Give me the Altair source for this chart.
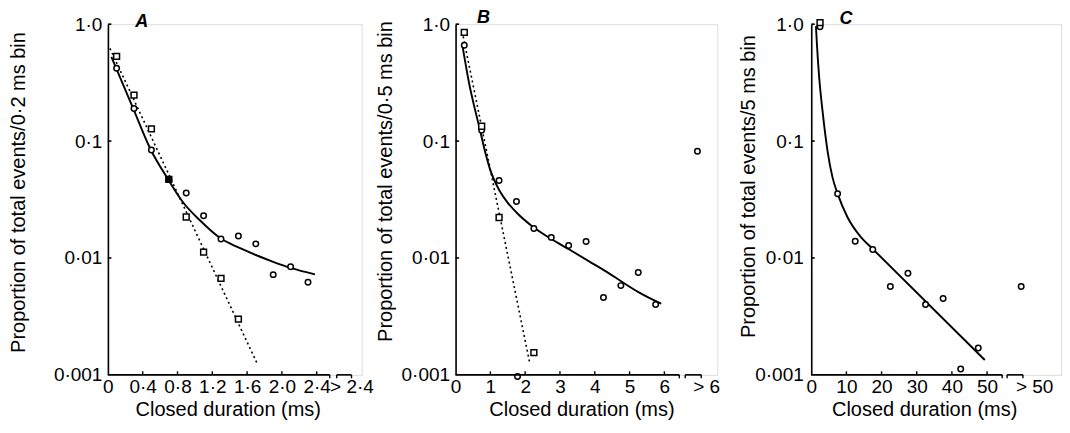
import altair as alt
import pandas as pd
import numpy as np

FONT = "Liberation Sans"

# ---------------- Panel A (0.2 ms bins) ----------------
a_circle_x = [0.1, 0.3, 0.5, 0.7, 0.9, 1.1, 1.3, 1.5, 1.7, 1.9, 2.1, 2.3]
a_circle_y = [0.42, 0.19, 0.084, 0.047, 0.036, 0.023, 0.0145, 0.0154, 0.0132, 0.0072, 0.0084, 0.0062]
a_square_x = [0.1, 0.3, 0.5, 0.7, 0.9, 1.1, 1.3, 1.5]
a_square_y = [0.53, 0.247, 0.127, 0.047, 0.0224, 0.0112, 0.0067, 0.0030]
a_filled_x = [0.7]
a_filled_y = [0.047]
a_fit_x = [0.04, 0.29, 0.49, 0.69, 0.87, 1.06, 1.29, 1.5, 1.7, 1.9, 2.1, 2.38]
a_fit_y = [0.525, 0.1905, 0.0851, 0.0473, 0.0295, 0.0209, 0.0148, 0.0123, 0.0106, 0.00927, 0.00822, 0.00724]
a_dash_x = [0.023, 1.711]
a_dash_y = [0.62, 0.00127]
a_ticks = [0, 0.4, 0.8, 1.2, 1.6, 2.0, 2.4]

# ---------------- Panel B (0.5 ms bins) ----------------
b_circle_x = [0.25, 0.75, 1.25, 1.75, 2.25, 2.75, 3.25, 3.75, 4.25, 4.75, 5.25, 5.75, 1.78]
b_circle_y = [0.66, 0.124, 0.046, 0.0304, 0.0179, 0.0150, 0.0128, 0.0138, 0.00458, 0.0058, 0.0075, 0.0040, 0.00097]
b_square_x = [0.25, 0.75, 1.25, 2.25]
b_square_y = [0.85, 0.134, 0.0222, 0.00155]
b_over_x = [6.95]
b_over_y = [0.082]
b_fit_x = [0.20, 0.40, 0.55, 0.69, 0.86, 1.0, 1.26, 1.49, 1.75, 2.21, 2.73, 3.27, 3.85, 4.42, 4.77, 5.28, 5.91]
b_fit_y = [0.648, 0.300, 0.1905, 0.1285, 0.0785, 0.0561, 0.0378, 0.0299, 0.0245, 0.0186, 0.01466, 0.0118,
           0.00931, 0.00735, 0.00628, 0.00505, 0.00406]
b_dash_x = [0.19, 2.125]
b_dash_y = [0.865, 0.00129]
b_ticks = [0, 1, 2, 3, 4, 5, 6]

# ---------------- Panel C (5 ms bins) ----------------
c_circle_x = [2.5, 7.5, 12.5, 17.5, 22.5, 27.5, 32.5, 37.5, 42.5, 47.5]
c_circle_y = [0.95, 0.0355, 0.0139, 0.0118, 0.0057, 0.0074, 0.0040, 0.0045, 0.00112, 0.0017]
c_square_x = [2.5]
c_square_y = [1.03]
c_over_x = [59.7]
c_over_y = [0.0057]
c_fit_x = [1.34, 1.62, 2.27, 3.21, 4.63, 6.05, 7.47, 10.31, 14.12, 17.41, 49.35]
c_fit_y = [0.962, 0.671, 0.348, 0.181, 0.0826, 0.0489, 0.0357, 0.0223, 0.01507, 0.0120, 0.00134]
c_ticks = [0, 10, 20, 30, 40, 50]

YMIN, YMAX = 0.001, 1.0
HEIGHT = 351
PX_PER_DECADE = HEIGHT / 3.0


def build_panel(cfg):
    width = cfg["width"]
    xmax = cfg["xmax"]
    ppu = width / xmax  # pixels per x unit
    up = 10 ** (3.5 / PX_PER_DECADE)
    down = 10 ** (-3.5 / PX_PER_DECADE)

    rows = []
    for x, y in zip(cfg["cx"], cfg["cy"]):
        rows.append(dict(kind="circle", x=x, y=y))
    for x, y in zip(cfg.get("ox", []), cfg.get("oy", [])):
        rows.append(dict(kind="circle", x=x, y=y))
    for x, y in zip(cfg["sx"], cfg["sy"]):
        rows.append(dict(kind="square", x=x, y=y))
    for x, y in zip(cfg.get("fx", []), cfg.get("fy", [])):
        rows.append(dict(kind="filled", x=x, y=y))
    for x, y in zip(cfg["fitx"], cfg["fity"]):
        rows.append(dict(kind="fit", x=x, y=y))
    for x, y in zip(cfg.get("dx", []), cfg.get("dy", [])):
        rows.append(dict(kind="dash", x=x, y=y))
    df = pd.DataFrame(rows)

    # rules: axis line, break segment, inward ticks
    h = []
    h.append(dict(x=0, x2=cfg["axis_end"], y=YMIN))
    h.append(dict(x=cfg["brk"][0], x2=cfg["brk"][1], y=YMIN))
    for v in [0.01, 0.1, 1.0]:
        h.append(dict(x=0, x2=3.5 / ppu, y=v))
    hdf = pd.DataFrame(h)
    v = []
    for t in cfg["ticks"][1:]:
        v.append(dict(x=t, y=YMIN, y2=YMIN * up))
    for t in [cfg["axis_end"], cfg["brk"][0], cfg["brk"][1]]:
        v.append(dict(x=t, y=YMIN, y2=YMIN * down))
    vdf = pd.DataFrame(v)

    over_pos = cfg["over_label_x"]
    xaxis = alt.Axis(
        values=cfg["ticks"] + [over_pos],
        labelExpr=f"datum.value > {cfg['axis_end']} ? '{cfg['over_label']}' : " + cfg["fmt"],
        domain=False, ticks=False, tickSize=0, grid=False,
        labelPadding=3, labelFontSize=19, labelFont=FONT, labelColor="black",
        labelFlush=False, labelOverlap=False,
        title="Closed duration (ms)", titleFontSize=20, titleFont=FONT,
        titleFontWeight="normal", titleColor="black",
        titleX=cfg["xtitle_x"], titleY=25, titleBaseline="top", titleAlign="center",
    )
    yaxis = alt.Axis(
        values=[0.001, 0.01, 0.1, 1.0],
        labelExpr="datum.value > 0.5 ? '1·0' : datum.value > 0.05 ? '0·1' : datum.value > 0.005 ? '0·01' : '0·001'",
        domain=True, domainColor="black", domainWidth=1.6,
        ticks=False, tickSize=0, grid=False,
        labelPadding=cfg["ylabpad"], labelFontSize=19, labelFont=FONT, labelColor="black",
        labelFlush=False, labelOverlap=False,
        title=cfg["ytitle"], titleFontSize=20, titleFont=FONT, titleFontWeight="normal",
        titleColor="black", titleX=cfg["ytitle_x"], titleY=cfg["ytitle_y"],
        titleAlign="center", titleBaseline="bottom",
    )
    X = alt.X("x:Q", scale=alt.Scale(domain=[0, xmax], nice=False, zero=False), axis=xaxis)
    Y = alt.Y("y:Q", scale=alt.Scale(type="log", domain=[YMIN, YMAX], nice=False), axis=yaxis)

    base = alt.Chart(df).encode(x=X, y=Y)
    layers = []
    layers.append(base.transform_filter("datum.kind == 'fit'").mark_line(
        color="black", strokeWidth=1.9, interpolate="monotone"))
    if cfg.get("dx"):
        layers.append(base.transform_filter("datum.kind == 'dash'").mark_line(
            color="black", strokeWidth=1.6, strokeDash=[2, 3]))
    layers.append(base.transform_filter("datum.kind == 'circle'").mark_point(
        shape="circle", filled=False, size=30, strokeWidth=1.5, color="black", fill="white",
        fillOpacity=1, opacity=1))
    layers.append(base.transform_filter("datum.kind == 'square'").mark_point(
        shape="square", filled=False, size=34, strokeWidth=1.5, color="black", fill="white",
        fillOpacity=1, opacity=1))
    if cfg.get("fx"):
        layers.append(base.transform_filter("datum.kind == 'filled'").mark_point(
            shape="circle", filled=True, size=40, color="black", opacity=1))
    layers.append(alt.Chart(hdf).mark_rule(color="black", strokeWidth=1.6).encode(
        x=X, x2="x2:Q", y=Y))
    layers.append(alt.Chart(vdf).mark_rule(color="black", strokeWidth=1.4).encode(
        x=X, y=Y, y2="y2:Q"))
    ldf = pd.DataFrame(dict(x=[cfg["letter_x"]], y=[cfg["letter_y"]], t=[cfg["letter"]]))
    layers.append(alt.Chart(ldf).mark_text(
        font=FONT, fontSize=18, fontStyle="italic", fontWeight="bold", color="black",
        baseline="alphabetic", align="center").encode(x=X, y=Y, text="t:N"))

    return alt.layer(*layers).properties(width=width, height=HEIGHT)


fmt_a = "(datum.value == 0 ? '0' : replace(format(datum.value, '.1f'), '.', '·'))"
fmt_int = "format(datum.value, 'd')"

WA, WB, WC = 254, 262, 250
pA = build_panel(dict(
    width=WA, xmax=WA / 87.08, cx=a_circle_x, cy=a_circle_y, sx=a_square_x, sy=a_square_y,
    fx=a_filled_x, fy=a_filled_y, fitx=a_fit_x, fity=a_fit_y, dx=a_dash_x, dy=a_dash_y,
    ticks=a_ticks, axis_end=2.55, brk=[2.63, 2.80], over_label_x=2.8, over_label="> 2·4",
    fmt=fmt_a, ytitle="Proportion of total events/0·2 ms bin", ytitle_x=-79, ytitle_y=168,
    xtitle_x=120, ylabpad=6, letter="A", letter_x=0.39, letter_y=0.943))
pB = build_panel(dict(
    width=WB, xmax=WB / 34.83, cx=b_circle_x, cy=b_circle_y, sx=b_square_x, sy=b_square_y,
    ox=b_over_x, oy=b_over_y, fitx=b_fit_x, fity=b_fit_y, dx=b_dash_x, dy=b_dash_y,
    ticks=b_ticks, axis_end=6.43, brk=[6.6, 7.06], over_label_x=7.2, over_label="> 6",
    fmt=fmt_int, ytitle="Proportion of total events/0·5 ms bin", ytitle_x=-60, ytitle_y=157,
    xtitle_x=126, ylabpad=6, letter="B", letter_x=0.80, letter_y=1.02))
pC = build_panel(dict(
    width=WC, xmax=WC / 3.52, cx=c_circle_x, cy=c_circle_y, sx=c_square_x, sy=c_square_y,
    ox=c_over_x, oy=c_over_y, fitx=c_fit_x, fity=c_fit_y,
    ticks=c_ticks, axis_end=54.3, brk=[55.7, 60.2], over_label_x=63.4, over_label="> 50",
    fmt=fmt_int, ytitle="Proportion of total events/5 ms bin", ytitle_x=-53, ytitle_y=162,
    xtitle_x=113, ylabpad=8, letter="C", letter_x=9.9, letter_y=1.0))

chart = alt.HConcatChart(hconcat=[pA, pB, pC], spacing=94, bounds="flush").properties(
    padding={"left": 0, "top": 0, "right": 0, "bottom": 0}
).configure_view(stroke=None).configure(font=FONT, background="white")

chart.save("out.html", embed_options={"renderer": "svg", "actions": False})
